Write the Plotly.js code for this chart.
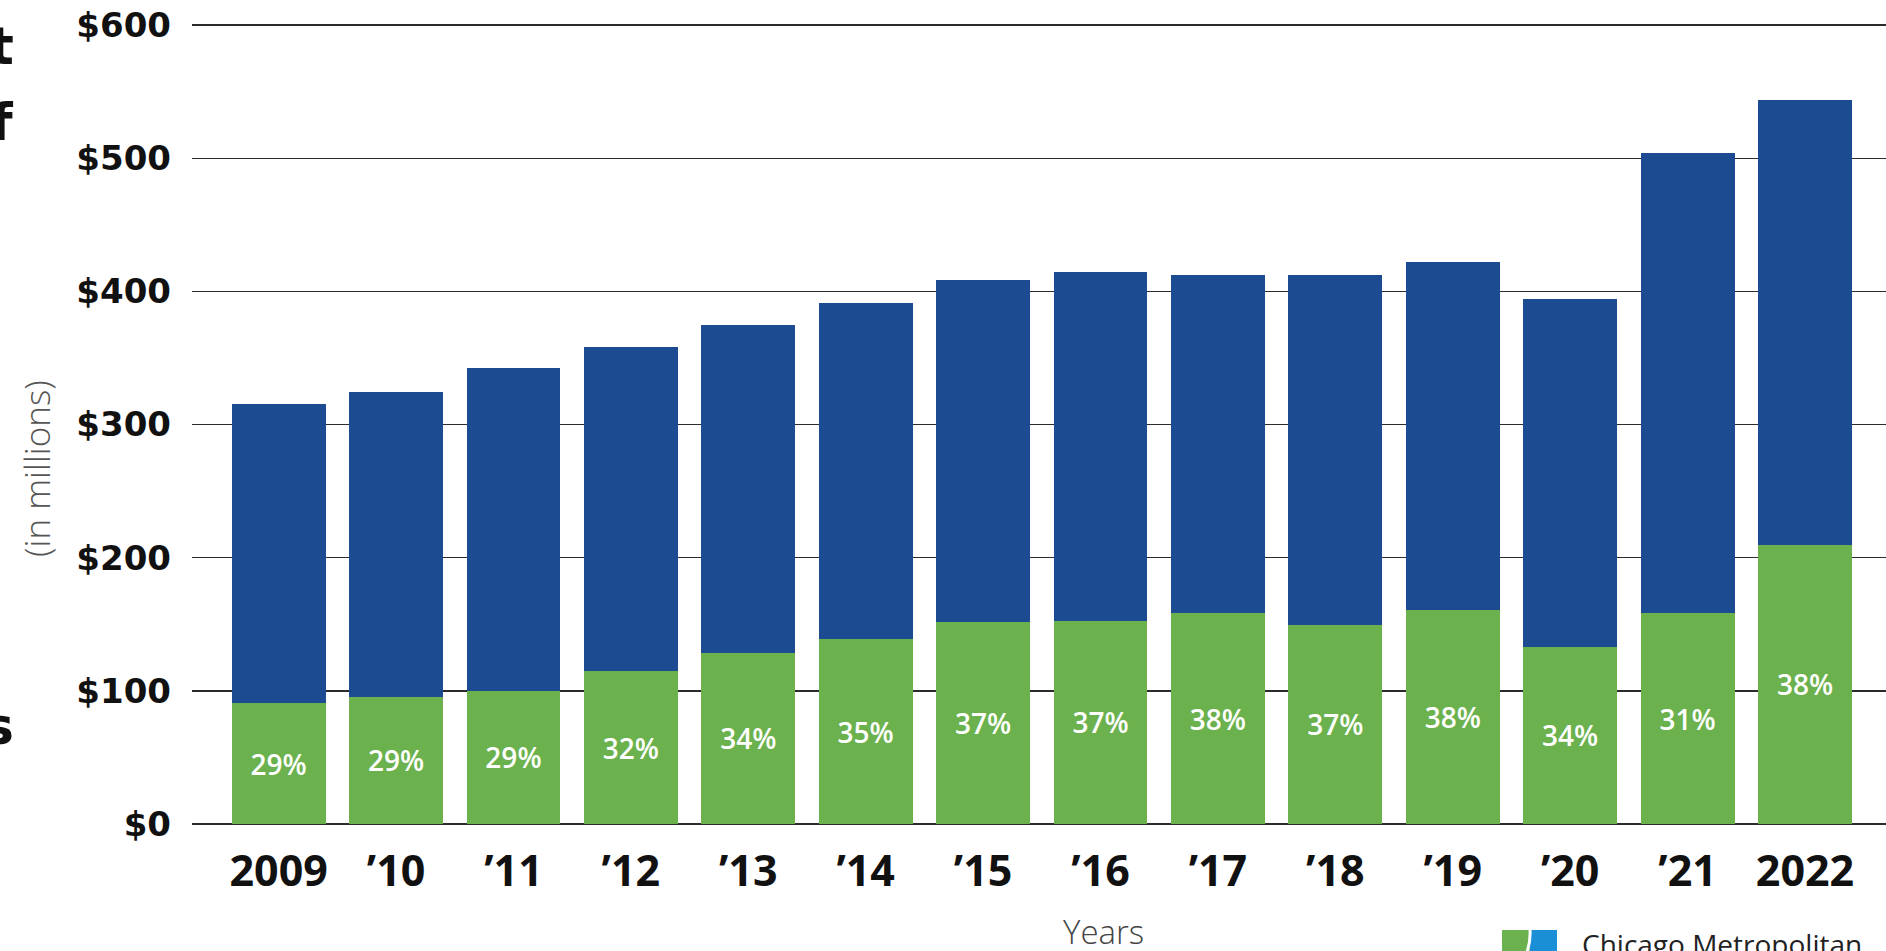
<!DOCTYPE html>
<html>
<head>
<meta charset="utf-8">
<script src="https://cdn.plot.ly/plotly-3.0.1.min.js"></script>
<style>
  html, body { margin: 0; padding: 0; background: #ffffff; overflow: hidden; }
  #chart { width: 1886px; height: 951px; }
</style>
</head>
<body>
<div id="chart"></div>
<script>
// ---- data ----
const years = ['2009', '\u201910', '\u201911', '\u201912', '\u201913', '\u201914', '\u201915',
               '\u201916', '\u201917', '\u201918', '\u201919', '\u201920', '\u201921', '2022'];
// total height of each bar, $ millions
const totals = [315.5, 324.5, 342.5, 358.5, 375, 391.3, 408.8, 414.2, 412, 412, 421.8, 394.5, 504.2, 544];
// green (lower) segment, $ millions
const greenPart = [90.6, 95.6, 100.1, 114.8, 128.5, 138.7, 151.5, 152.7, 158.3, 149.6, 160.7, 133.2, 158.2, 209.6];
// labels printed on the green segments
const pctLabels = ['29%', '29%', '29%', '32%', '34%', '35%', '37%', '37%', '38%', '37%', '38%', '34%', '31%', '38%'];
// y axis ticks
const yTickVals = [0, 100, 200, 300, 400, 500, 600];
const yTickText = ['$0', '$100', '$200', '$300', '$400', '$500', '$600'];

const bluePart = totals.map((t, i) => t - greenPart[i]);

const GREEN = '#6bb14d';
const BLUE = '#1d4b91';

const traces = [
  {
    type: 'bar',
    x: years,
    y: greenPart,
    marker: { color: GREEN, line: { width: 0 } },
    text: pctLabels,
    textposition: 'inside',
    insidetextanchor: 'middle',
    textangle: 0,
    constraintext: 'none',
    textfont: { family: 'Open Sans, Noto Sans, sans-serif', size: 28, color: '#ffffff', weight: 600 },
    hoverinfo: 'skip',
    showlegend: false
  },
  {
    type: 'bar',
    x: years,
    y: bluePart,
    marker: { color: BLUE, line: { width: 0 } },
    hoverinfo: 'skip',
    showlegend: false
  }
];

const L = 192, T = 23, B = 127;
const PW = 1694, PH = 951 - T - B;     // plot size in px
const Y0 = 951 - B;                    // pixel row of $0
const px = (x) => (x - L) / PW;        // pixel -> paper x
const py = (y) => (Y0 - y) / PH;       // pixel -> paper y

const layout = {
  width: 1886,
  height: 951,
  autosize: false,
  margin: { l: L, r: 0, t: T, b: B, pad: 0 },
  paper_bgcolor: '#ffffff',
  plot_bgcolor: '#ffffff',
  barmode: 'stack',
  bargap: 0.2,
  xaxis: {
    type: 'category',
    range: [-0.738, 13.69],
    showgrid: false,
    zeroline: false,
    showline: false,
    ticks: '',
    ticklabelstandoff: 18,
    tickfont: { family: 'Noto Sans, Open Sans, sans-serif', size: 43, color: '#111111', weight: 700 },
    fixedrange: true
  },
  yaxis: {
    range: [0, PH / 1.3315],
    tickvals: yTickVals,
    ticktext: yTickText,
    showgrid: true,
    gridcolor: '#2b2b2b',
    gridwidth: 1.5,
    zeroline: true,
    zerolinecolor: '#2b2b2b',
    zerolinewidth: 1.5,
    showline: false,
    ticks: '',
    ticklabelstandoff: 20,
    tickfont: { family: 'DejaVu Sans, sans-serif', size: 34, color: '#111111', weight: 700 },
    automargin: false,
    fixedrange: true
  },
  annotations: [
    {
      text: '(in millions)', xref: 'paper', yref: 'paper',
      x: px(36), y: py(469), xanchor: 'center', yanchor: 'middle',
      textangle: -90, showarrow: false,
      font: { family: 'Open Sans, Noto Sans, sans-serif', size: 35, color: '#555555', weight: 300 }
    },
    {
      text: 'Years', xref: 'paper', yref: 'paper',
      x: px(1103), y: py(931), xanchor: 'center', yanchor: 'middle',
      showarrow: false,
      font: { family: 'Open Sans, Noto Sans, sans-serif', size: 33, color: '#444444', weight: 300 }
    },
    {
      text: 'Chicago Metropolitan', xref: 'paper', yref: 'paper',
      x: px(1580), y: py(944), xanchor: 'left', yanchor: 'middle',
      showarrow: false,
      font: { family: 'Open Sans, Noto Sans, sans-serif', size: 28, color: '#222222', weight: 400 }
    },
    {
      text: 't', xref: 'paper', yref: 'paper',
      x: px(16), y: py(46), xanchor: 'right', yanchor: 'middle',
      showarrow: false,
      font: { family: 'DejaVu Sans, sans-serif', size: 52, color: '#111111', weight: 700 }
    },
    {
      text: 'f', xref: 'paper', yref: 'paper',
      x: px(16), y: py(122), xanchor: 'right', yanchor: 'middle',
      showarrow: false,
      font: { family: 'DejaVu Sans, sans-serif', size: 52, color: '#111111', weight: 700 }
    },
    {
      text: 's', xref: 'paper', yref: 'paper',
      x: px(16), y: py(726), xanchor: 'right', yanchor: 'middle',
      showarrow: false,
      font: { family: 'DejaVu Sans, sans-serif', size: 52, color: '#111111', weight: 700 }
    }
  ],
  shapes: [
    {
      type: 'rect', xref: 'paper', yref: 'paper', layer: 'above',
      x0: px(1502), x1: px(1530), y0: py(930), y1: py(960),
      fillcolor: GREEN, line: { width: 0 }
    },
    {
      type: 'rect', xref: 'paper', yref: 'paper', layer: 'above',
      x0: px(1530), x1: px(1557), y0: py(930), y1: py(960),
      fillcolor: '#1b8fd6', line: { width: 0 }
    },
    {
      type: 'path', xref: 'paper', yref: 'paper', layer: 'above',
      path: 'M ' + px(1530) + ' ' + py(929) +
            ' Q ' + px(1531) + ' ' + py(945) +
            ' ' + px(1524) + ' ' + py(960),
      line: { color: '#ffffff', width: 3 }
    }
  ]
};

Plotly.newPlot('chart', traces, layout, { displayModeBar: false, staticPlot: true });
</script>
</body>
</html>
